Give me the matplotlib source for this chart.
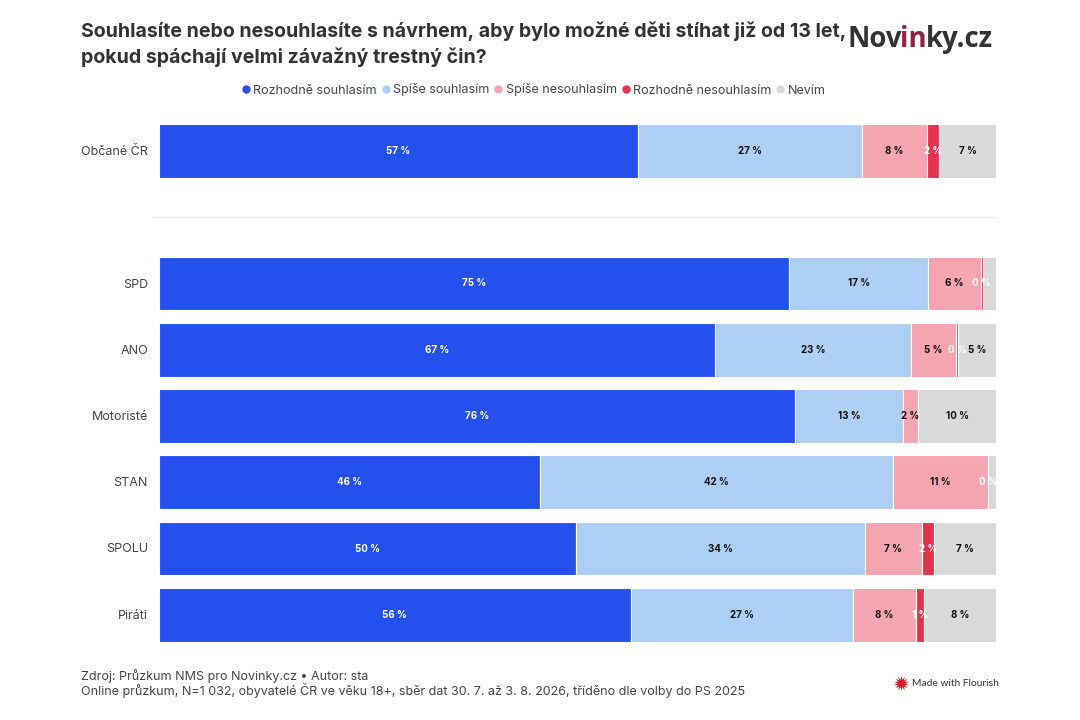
import matplotlib
matplotlib.use("Agg")
import matplotlib.pyplot as plt
from matplotlib.lines import Line2D

W, H = 1080, 720

groups = ["Občané ČR", "SPD", "ANO", "Motoristé", "STAN", "SPOLU", "Piráti"]
# the blank row 1 holds the separator between the whole sample and the parties
rows = [0, 2, 3, 4, 5, 6, 7]

answers = ["Rozhodně souhlasím", "Spíše souhlasím", "Spíše nesouhlasím", "Rozhodně nesouhlasím", "Nevím"]
colors = ["#2450EE", "#AECFF4", "#F4A5AF", "#E1344E", "#D9D9D9"]
label_colors = ["white", "#111111", "#111111", "white", "#111111"]

# bar widths
strongly_agree = [57.2, 75.3, 66.5, 76.0, 45.6, 49.9, 56.4]
rather_agree = [26.8, 16.6, 23.3, 12.9, 42.1, 34.4, 26.5]
rather_disagree = [7.8, 6.3, 5.4, 1.8, 11.3, 6.9, 7.5]
strongly_disagree = [1.4, 0.2, 0.3, 0.0, 0.1, 1.4, 1.0]
dont_know = [6.8, 1.6, 4.5, 9.3, 0.9, 7.4, 8.6]

# the printed labels, None where the chart prints nothing
strongly_agree_labels = [57, 75, 67, 76, 46, 50, 56]
rather_agree_labels = [27, 17, 23, 13, 42, 34, 27]
rather_disagree_labels = [8, 6, 5, 2, 11, 7, 8]
strongly_disagree_labels = [2, 0, 0, None, 0, 2, 1]
dont_know_labels = [7, None, 5, 10, None, 7, 8]

series = [strongly_agree, rather_agree, rather_disagree, strongly_disagree, dont_know]
series_labels = [strongly_agree_labels, rather_agree_labels, rather_disagree_labels,
                 strongly_disagree_labels, dont_know_labels]

plt.rcParams["font.family"] = ["Inter", "DejaVu Sans"]
fig = plt.figure(figsize=(W / 100, H / 100), dpi=100, facecolor="white")


def fx(px):
    return px / W


def fy(px):
    return 1 - px / H


# plot area in pixels: x 159-996, rows 66.25 px apart, first row centred on y=151
top, bottom = 118, 647
ax = fig.add_axes([fx(158.6), fy(bottom), fx(996 - 158.6), (bottom - top) / H])
ax.set_xlim(0, 100)
ax.set_ylim((bottom - 151) / 66.25, (top - 151) / 66.25)
ax.axis("off")

left = [0.0] * len(groups)
for values, labels, color, label_color in zip(series, series_labels, colors, label_colors):
    ax.barh(rows, values, left=left, height=0.815, color=color, edgecolor="white", linewidth=0.8)
    for row, start, value, label in zip(rows, left, values, labels):
        if label is not None:
            ax.text(start + value / 2, row, f"{label} %", ha="center", va="center",
                    fontsize=7, fontweight="bold", color=label_color)
    left = [a + b for a, b in zip(left, values)]

ax.plot([-0.7, 100], [1, 1], color="#EEEEEE", linewidth=1, clip_on=False)

for row, name in zip(rows, groups):
    fig.text(fx(148), fy(152 + row * 66.25), name, ha="right", va="center", fontsize=9, color="#444444")

fig.text(fx(81), fy(31), "Souhlasíte nebo nesouhlasíte s návrhem, aby bylo možné děti stíhat již od 13 let,",
         fontsize=14.05, fontweight="bold", color="#333333", va="center")
fig.text(fx(81), fy(57), "pokud spáchají velmi závažný trestný čin?",
         fontsize=14.05, fontweight="bold", color="#333333", va="center")

handles = [Line2D([], [], marker="o", linestyle="none", markersize=5, color=c) for c in colors]
fig.legend(handles, answers, loc="center", bbox_to_anchor=(fx(534), fy(90)), ncol=5, frameon=False,
           fontsize=9, labelcolor="#444444", handlelength=0.6, handletextpad=0.3, columnspacing=0.4, borderpad=0)

# logo, drawn piece by piece so that "in" can take its own colour
renderer = fig.canvas.get_renderer()
logo_x = 847
for piece, color in [("Nov", "#333333"), ("in", "#8E2440"), ("ky.cz", "#333333")]:
    t = fig.text(fx(logo_x), fy(47), piece, fontsize=19.8, fontweight="bold",
                 family="Open Sans", color=color, va="baseline")
    logo_x += t.get_window_extent(renderer).width - 1

fig.text(fx(81), fy(676), "Zdroj: Průzkum NMS pro Novinky.cz • Autor: sta", fontsize=9, color="#444444", va="center")
fig.text(fx(81), fy(691), "Online průzkum, N=1 032, obyvatelé ČR ve věku 18+, sběr dat 30. 7. až 3. 8. 2026, tříděno dle volby do PS 2025",
         fontsize=9, color="#444444", va="center")

fig.add_artist(Line2D([fx(901)], [fy(683)], marker=(14, 1, 0), markersize=11, color="#D5202F",
                      linestyle="none", markeredgewidth=0))
fig.text(fx(912), fy(683), "Made with Flourish", fontsize=7.4, color="#333333", va="center", family="Lato")

fig.savefig("out.png", dpi=100)
